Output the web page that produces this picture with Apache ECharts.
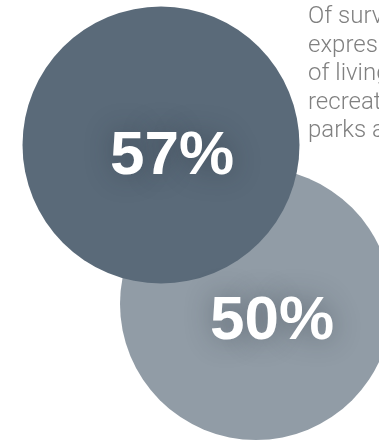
<!DOCTYPE html>
<html>
<head>
<meta charset="utf-8">
<script src="https://cdn.jsdelivr.net/npm/echarts@6/dist/echarts.min.js"></script>
<style>
  html, body { margin: 0; padding: 0; background: #fff; }
  #chart { width: 379px; height: 441px; }
</style>
</head>
<body>
<div id="chart"></div>
<script>
// bubbles (drawn back to front)
const labels = ['50%', '57%']
const values = [50, 57]
// bubble centres in chart units (x 0..379, y 0..441, y down)
const centerX = [256, 161]
const centerY = [304, 145]
// paragraph lines (cut off by the right edge in the original)
const noteLines = ['Of surveyed', 'expressed', 'of living', 'recreation', 'parks and']

const chart = echarts.init(document.getElementById('chart'))

// 每个气泡的样式
const bubbleStyle = [
  { color: '#919ca6', size: 272, offset: [16, 18] },
  { color: '#5a6a79', size: 277, offset: [11, 12] }
]

const data = values.map((v, i) => ({
  value: [centerX[i], centerY[i], v],
  name: labels[i],
  symbolSize: bubbleStyle[i].size,
  itemStyle: { color: bubbleStyle[i].color, opacity: 1 },
  label: { offset: bubbleStyle[i].offset }
}))

const option = {
  animation: false,
  grid: { left: 0, right: 0, top: 0, bottom: 0 },
  xAxis: { type: 'value', min: 0, max: 379, show: false },
  yAxis: { type: 'value', min: 0, max: 441, inverse: true, show: false },
  series: [
    {
      type: 'scatter',
      symbol: 'circle',
      data,
      label: {
        show: true,
        position: 'inside',
        formatter: p => p.name,
        color: '#ffffff',
        fontFamily: 'Liberation Sans, Arial, sans-serif',
        fontWeight: 'bold',
        fontSize: 62,
        textShadowColor: 'rgba(30, 40, 50, 0.45)',
        textShadowBlur: 28
      },
      emphasis: { disabled: true }
    }
  ],
  graphic: [
    {
      type: 'text',
      left: 308,
      top: 3,
      style: {
        text: noteLines.join('\n'),
        fill: '#808080',
        font: '300 24px Roboto, sans-serif',
        lineHeight: 28.5
      }
    }
  ]
}

chart.setOption(option)
</script>
</body>
</html>
